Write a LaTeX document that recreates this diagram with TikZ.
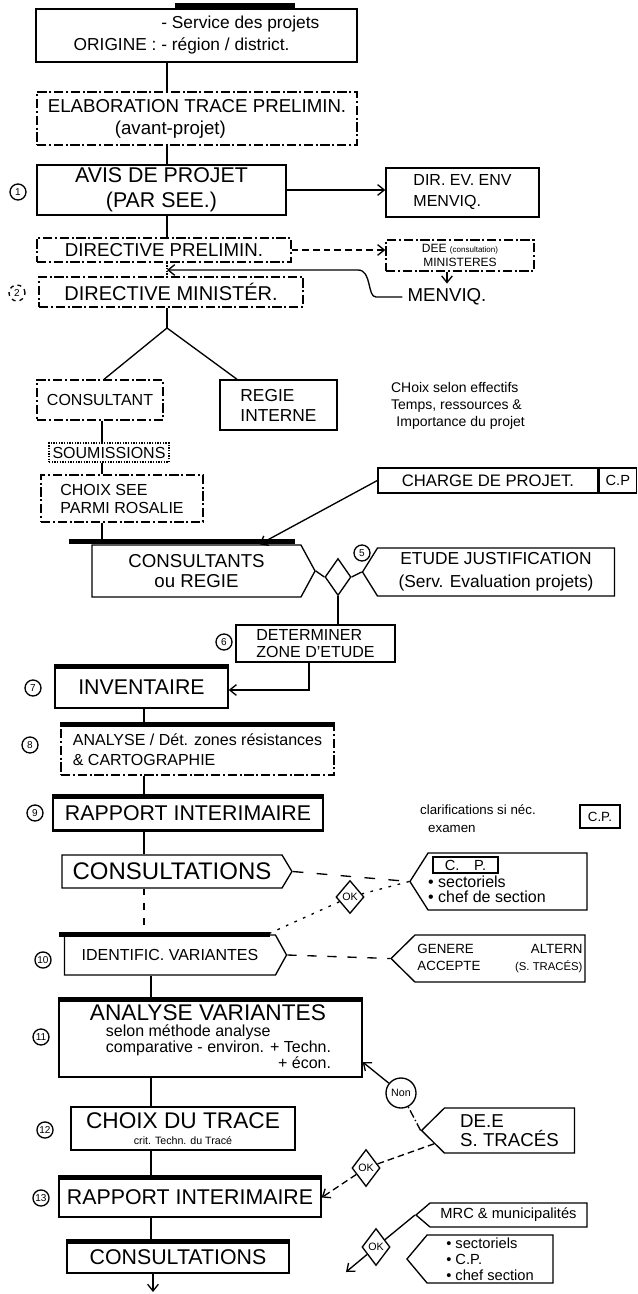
\documentclass[tikz,border=0pt]{standalone}
\usepackage{fontspec}
\setmainfont{Liberation Sans}
\usetikzlibrary{arrows.meta,shapes.geometric,shapes.symbols,calc}

\tikzset{every picture/.style={line width=1pt}}
\tikzset{
	wh/.style 2 args={minimum width=#1*0.75pt, minimum height=#2*0.75pt},
	fs/.style 2 args={font=\fontsize{#1}{#2}\selectfont},
	box/.style={draw, rectangle, inner sep=1pt, align=center},
	dbox/.style={box, dash pattern={on 7pt off 2pt on 1.5pt off 2pt}},
	pointR/.style={draw, signal, signal to=east, inner sep=1pt, align=center, signal pointer angle=#1},
	pointL/.style={draw, signal, signal to=west, inner sep=1pt, align=center, signal pointer angle=#1},
	decide/.style={draw, diamond, inner sep=0pt, fs={8}{9}},
	num/.style={draw, circle, inner sep=0.8pt, minimum size=12pt, fs={7.5}{8}},
	heavy/.style={line width=3.5pt}}

\begin{document}
\begin{tikzpicture}[x=0.75pt,y=0.75pt,yscale=-1,xscale=1,>={Straight Barb[length=5pt,width=8pt]}]
	\useasboundingbox (0,0) rectangle (638,1294);

	%Column coordinates
	\coordinate (colA) at (167,0);
	\coordinate (colB) at (102,0);
	\coordinate (colC) at (144,0);
	\coordinate (colD) at (151,0);

	%Shape: Rectangle [origine]
	\node[box, wh={321}{53}, fs={13}{16.5}, align=left] (origine) at (196.5,35.5) {\phantom{ORIGINE : }- Service des projets\\ORIGINE : - région / district.};
	\draw[heavy] ($(origine.north)+(-22,-3)$) -- ($(origine.north)+(98,-3)$);
	%Shape: Rectangle [elaboration]
	\node[dbox, wh={320}{53}, fs={14}{16.5}] (elab) at (197,118.5) {ELABORATION TRACE PRELIMIN.\\(avant-projet)\hspace*{40pt}};
	\draw (origine.south -| colA) -- (elab.north -| colA);
	%Shape: Rectangle [avis]
	\node[box, wh={249}{50}, fs={16}{19}] (avis) at (161.5,190) {AVIS DE PROJET\\(PAR SEE.)};
	\node[num] (n1) at (18,192) {1};
	\draw (elab.south -| colA) -- (avis.north -| colA);
	%Shape: Rectangle [dir]
	\node[box, wh={153}{49}, fs={12}{15.75}, align=left] (dir) at (462.5,192.5) {DIR. EV. ENV\\MENVIQ.};
	\draw[->] (avis.east) -- (dir.west |- avis.east);

	%Shape: Rectangle [directive prelim]
	\node[dbox, wh={254}{24}, fs={14}{16}] (dp) at (164,250) {DIRECTIVE PRELIMIN.};
	\draw (avis.south -| colA) -- (dp.north -| colA);
	\node[dbox, wh={148}{31}, fs={9}{11}] (dee) at (460,255.5) {DEE {\fontsize{6}{7}\selectfont(consultation)}\\MINISTERES};
	\draw[->, dash pattern={on 5pt off 3pt}] (dp.east) -- (dee.west |- dp.east);
	% Text Node
	\node[fs={14}{16}] (menviq) at (447,297) {MENVIQ.};
	\draw[->] (menviq.north |- dee.south) -- (menviq.north);

	%Shape: Rectangle [directive ministere]
	\node[dbox, wh={264}{30}, fs={15}{17}] (dm) at (171,292) {DIRECTIVE MINISTÉR.};
	\node[num, dashed] (n2) at (17,293) {2};
	\draw[densely dotted] (dp.south -| colA) -- (dm.north -| colA);
	\coordinate (retour) at (167,270);
	\draw[->] (menviq.west) -- (376,297) .. controls (367,297) and (372,270) .. (358,270) -- (retour);

	%Straight Lines [branch]
	\coordinate (fourche) at (167,328);
	\draw (dm.south -| colA) -- (fourche);
	\node[dbox, wh={126}{40}, fs={12}{14}] (consultant) at (100,400) {CONSULTANT};
	\node[box, wh={117}{50}, fs={13}{15}, align=left] (regie) at (278.5,405) {REGIE\\INTERNE};
	\draw (fourche) -- ($(consultant.north)+(4,0)$);
	\draw (fourche) -- ($(regie.north west)!0.15!(regie.north east)$);
	% Text Node
	\node[fs={10.5}{13}, align=left] (critere) at (458,406) {CHoix selon effectifs\\Temps, ressources \&\\\hspace*{4pt}Importance du projet};

	%Shape: Rectangle [soumissions]
	\node[box, densely dotted, wh={120}{19}, fs={12}{14}] (soum) at (109,452.5) {SOUMISSIONS};
	\node[dbox, wh={162}{47}, fs={12}{13.5}, align=left] (choixsee) at (122,498.5) {CHOIX SEE\\PARMI ROSALIE};
	\draw (consultant.south -| colB) -- (soum.north -| colB);
	\draw (soum.south -| colB) -- (choixsee.north -| colB);

	%Shape: Rectangle [charge de projet]
	\node[box, wh={220}{25}, fs={12.5}{14}] (charge) at (488,480.5) {CHARGE DE PROJET.};
	\node[box, wh={37}{25}, fs={11}{13}, anchor=west] (cp) at (charge.east) {C.P};

	%Shape: Signal [consultants ou regie]
	\node[pointR=123, wh={223}{52}, fs={14}{15}] (consreg) at (196.5,571) {CONSULTANTS\\ou REGIE};
	\draw[heavy] ($(consreg.north)+(-128,-3)$) -- ($(consreg.north)+(98,-3)$);
	\draw (choixsee.south -| colB) -- (consreg.north -| colB);
	\draw[->] (charge.west) -- ($(consreg.north)+(63,0)$);
	%Shape: Diamond
	\node[decide, wh={26}{37}] (choixD) at (338,577) {};
	\draw (consreg.east) -- (choixD.west);
	\node[pointL=116, wh={252}{48}, fs={13}{17}] (etude) at (496,572) {ETUDE JUSTIFICATION\\(Serv. Evaluation projets)};
	\draw (choixD.east) -- (etude.west);
	\node[num] (n5) at (362,553) {5};

	%Shape: Rectangle [zone d'etude]
	\node[box, wh={159}{37}, fs={12}{12.75}, align=left] (deter) at (315.5,643.5) {DETERMINER\\ZONE D'ETUDE};
	\node[num] (n6) at (224,642) {6};
	\draw (choixD.south) -- (choixD.south |- deter.north);
	%Shape: Rectangle [inventaire]
	\node[box, wh={173}{41}, fs={16}{18}] (invent) at (141.5,687.5) {INVENTAIRE};
	\draw[heavy] (invent.north west) -- (invent.north east);
	\node[num] (n7) at (33,688) {7};
	\coordinate (coude) at (309,690);
	\draw[->] (deter.south -| coude) -- (coude) -- (invent.east |- coude);

	%Shape: Rectangle [analyse]
	\node[dbox, wh={273}{50}, fs={12}{15}, align=left] (analyse) at (197.5,750) {ANALYSE / Dét. zones résistances\\\& CARTOGRAPHIE};
	\draw[heavy] (analyse.north west) -- (analyse.north east);
	\node[num] (n8) at (30,745) {8};
	\draw (invent.south -| colC) -- (analyse.north -| colC);
	%Shape: Rectangle [rapport 1]
	\node[box, wh={270}{33}, fs={16}{18}] (rapp1) at (188,813.5) {RAPPORT INTERIMAIRE};
	\draw[heavy] (rapp1.north west) -- (rapp1.north east);
	\draw[line width=2.5pt] (rapp1.south west) -- (rapp1.south east);
	\node[num] (n9) at (35,813) {9};
	\draw (analyse.south -| colC) -- (rapp1.north -| colC);
	% Text Node
	\node[fs={10}{13.5}, align=left] (clarif) at (478,819) {clarifications si néc.\\\hspace*{6pt}examen};
	\node[box, line width=1.5pt, wh={40}{23}, fs={10}{12}] (cpb) at (600,816.5) {C.P.};

	%Shape: Signal [consultations 1]
	\node[pointR=118, wh={230}{33}, fs={18}{20}] (consult1) at (172,871.5) {CONSULTATIONS};
	\draw (rapp1.south -| colC) -- (consult1.north -| colC);
	\node[pointL=115, wh={177}{57}] (cpgroup) at (507.5,881.5) {};
	\node[box, wh={65}{16}, fs={11}{12}, inner sep=0pt] (cpa) at (465.5,865) {C.\quad P.};
	\node[fs={12}{11}, align=left, anchor=west] (cplist) at (423,889) {• sectoriels\\• chef de section};
	\draw[dash pattern={on 8pt off 10pt}] (consult1.east) -- (cpgroup.west);
	\node[decide, wh={28}{33}] (okA) at (350,897) {OK};
	\draw[dash pattern={on 2pt off 5pt}] (cpgroup.west) -- (okA);

	%Shape: Signal [identification]
	\node[pointR=122, wh={222}{40}, fs={12}{14}] (identif) at (170,955) {IDENTIFIC. VARIANTES};
	\draw[heavy] ($(identif.north)+(-111,0)$) -- ($(identif.north)+(100,0)$);
	\node[num] (n10) at (43,960) {10};
	\draw[dash pattern={on 2pt off 5pt}] (okA) -- (identif.12);
	\draw[dash pattern={on 5pt off 6pt}] (consult1.south -| colC) -- (identif.north -| colC);
	\node[pointL=89, wh={194}{47}, fs={10}{13}] (genere) at (500,958.5) {\begin{tabular}{@{}l@{\hspace{26pt}}r@{}}GENERE & ALTERN\\ACCEPTE & {\fontsize{8.5}{10}\selectfont(S. TRACÉS)}\end{tabular}};
	\draw[dash pattern={on 7pt off 8pt}] (identif.east) -- (genere.west);

	%Shape: Rectangle [analyse variantes]
	\node[box, wh={303}{77}, align=left] (anvar) at (210.5,1038.5) {{\fontsize{17}{19}\selectfont ANALYSE VARIANTES}\\{\fontsize{12}{10.5}\selectfont\begin{tabular}[t]{@{\hspace{12pt}}l@{}}selon méthode analyse\\comparative - environ. + Techn.\\\hfill + écon.\end{tabular}}};
	\draw[heavy] (anvar.north west) -- (anvar.north east);
	\node[num] (n11) at (41,1037) {11};
	\draw (identif.south -| colD) -- (anvar.north -| colD);
	\node[pointL=89, wh={153}{45}, fs={14}{14}, align=left] (dee2) at (509.5,1130.5) {DE.E\\S. TRACÉS};
	\node[draw, circle, minimum size=22.5pt, inner sep=0pt, fs={8}{9}] (non) at (401,1093) {Non};
	\draw[dash pattern={on 6pt off 2pt on 1pt off 2pt}] (dee2.west) -- (non);
	\draw[->] (non) -- ($(anvar.south east)!0.2!(anvar.north east)$);

	%Shape: Rectangle [choix du trace]
	\node[box, wh={224}{43}] (choix) at (183,1128.5) {{\fontsize{17}{18}\selectfont CHOIX DU TRACE}\\{\fontsize{8}{10}\selectfont crit. Techn. du Tracé}};
	\node[num] (n12) at (45,1130) {12};
	\draw (anvar.south -| colD) -- (choix.north -| colD);
	%Shape: Rectangle [rapport 2]
	\node[box, wh={262}{39}, fs={16}{18}] (rapp2) at (190,1197.5) {RAPPORT INTERIMAIRE};
	\draw[heavy] (rapp2.north west) -- (rapp2.north east);
	\node[num] (n13) at (41,1198) {13};
	\draw (choix.south -| colD) -- (rapp2.north -| colD);
	\node[decide, wh={28}{37}] (okB) at (366,1168) {OK};
	\draw[dash pattern={on 5pt off 3pt}] (dee2.190) -- (okB);
	\draw[->, dash pattern={on 5pt off 3pt}] (okB) -- (rapp2.east);

	%Shape: Rectangle [consultations 2]
	\node[box, wh={222}{31}, fs={16}{18}] (consult2) at (178,1257.5) {CONSULTATIONS};
	\draw[heavy] (consult2.north west) -- (consult2.north east);
	\draw (rapp2.south -| colD) -- (consult2.north -| colD);
	\coordinate (suite) at (153,1292);
	\draw[->] (consult2.south -| suite) -- (suite);
	\node[pointL=81, wh={171}{24}, fs={11}{12}] (mrc) at (508.5,1215) {MRC \& municipalités};
	\node[pointL=100, wh={146}{48}, fs={11}{12}, align=left] (sect2) at (490,1259) {• sectoriels\\• C.P.\\• chef section};
	\node[decide, wh={28}{37}] (okC) at (376,1247) {OK};
	\coordinate (versC) at (346,1272);
	\draw (mrc.west) -- (okC);
	\draw[->] (okC) -- (versC);

\end{tikzpicture}
\end{document}
